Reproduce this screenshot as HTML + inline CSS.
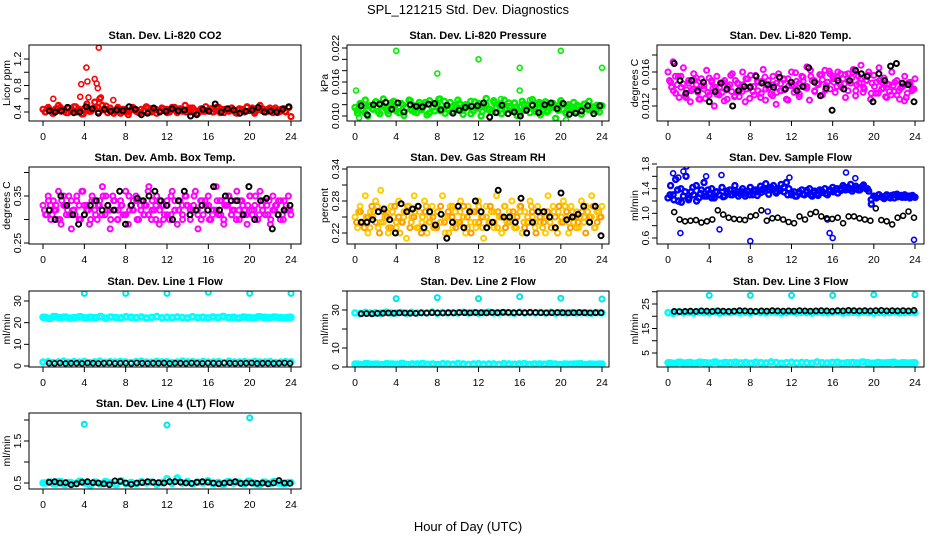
<!DOCTYPE html>
<html><head><meta charset="utf-8"><title>SPL_121215 Std. Dev. Diagnostics</title>
<style>
html,body{margin:0;padding:0;background:#fff;}
svg{display:block;font-family:"Liberation Sans",Arial,sans-serif;}
</style></head>
<body>
<svg id="chart" width="936" height="540" viewBox="0 0 936 540" xmlns="http://www.w3.org/2000/svg">
<rect x="0" y="0" width="936" height="540" fill="#fff"/>
<text x="468" y="14" text-anchor="middle" font-size="13">SPL_121215  Std. Dev. Diagnostics</text>
<text x="468" y="531" text-anchor="middle" font-size="13">Hour of Day (UTC)</text>
</svg>
<script>
// ---- data (values read/estimated from the reference) ----
const xTicks = [0,4,8,12,16,20,24];
const co2Red = [0.44,0.40,0.47,0.42,0.38,0.45,0.50,0.41,0.43,0.39,0.46,0.42,0.48,0.40,0.44,0.37,0.45,0.52,0.41,0.43,0.55,0.47,0.60,0.50,0.44,0.39,0.46,0.42,0.41,0.47,0.38,0.44,0.40,0.36,0.43,0.46,0.41,0.39,0.44,0.42,0.48,0.40,0.45,0.43,0.38,0.41,0.46,0.42,0.44,0.40,0.47,0.43,0.39,0.45,0.41,0.50,0.43,0.40,0.46,0.42,0.38,0.44,0.41,0.48,0.43,0.45,0.40,0.42,0.47,0.44,0.39,0.43,0.41,0.46,0.42,0.38,0.45,0.44,0.40,0.48,0.42,0.46,0.41,0.43,0.50,0.45,0.40,0.44,0.42,0.39,0.46,0.43,0.41,0.45,0.40,0.47,0.33];
const co2Red2 = [0.40,0.45,0.38,0.43,0.47,0.41,0.39,0.44,0.48,0.42,0.37,0.45,0.41,0.46,0.40,0.43,0.49,0.42,0.38,0.45,0.41,0.44,0.40,0.47,0.43,0.39,0.42,0.46,0.40,0.44,0.41,0.45,0.39,0.43,0.47,0.41,0.44,0.40,0.46,0.42,0.38,0.45,0.41,0.43,0.40,0.47,0.39,0.44,0.42,0.46,0.39,0.44,0.41,0.47,0.43,0.38,0.45,0.42,0.40,0.46,0.43,0.39,0.44,0.41,0.47];
const co2OutH = [1.0,3.6,3.7,4.2,4.3,5.0,5.2,5.3,5.4,4.4,5.6,6.8];
const co2OutV = [0.60,0.63,0.82,1.07,0.86,0.90,0.83,0.76,1.37,0.62,0.62,0.58];
const co2Black = [0.42,0.40,0.42,0.47,0.39,0.40,0.48,0.45,0.38,0.44,0.41,0.43,0.42,0.48,0.44,0.36,0.38,0.46,0.40,0.41,0.45,0.42,0.43,0.34,0.36,0.44,0.41,0.52,0.40,0.45,0.43,0.38,0.41,0.43,0.47,0.40,0.41,0.40,0.44,0.48];
const presGreen = [0.0115,0.0105,0.0122,0.0110,0.0128,0.0100,0.0118,0.0112,0.0125,0.0108,0.0120,0.0130,0.0113,0.0104,0.0119,0.0126,0.0109,0.0116,0.0122,0.0101,0.0114,0.0128,0.0110,0.0118,0.0106,0.0124,0.0113,0.0119,0.0102,0.0127,0.0115,0.0109,0.0121,0.0130,0.0111,0.0105,0.0118,0.0124,0.0108,0.0115,0.0128,0.0112,0.0103,0.0120,0.0116,0.0126,0.0109,0.0114,0.0122,0.0100,0.0118,0.0131,0.0111,0.0107,0.0124,0.0115,0.0120,0.0104,0.0128,0.0112,0.0117,0.0109,0.0123,0.0101,0.0116,0.0126,0.0110,0.0119,0.0106,0.0129,0.0113,0.0121,0.0102,0.0117,0.0125,0.0109,0.0115,0.0122,0.0096,0.0118,0.0127,0.0111,0.0105,0.0120,0.0114,0.0124,0.0108,0.0117,0.0103,0.0121,0.0113,0.0126,0.0110,0.0116,0.0119,0.0107,0.0118];
const presGreen2 = [0.0110,0.0121,0.0106,0.0118,0.0113,0.0125,0.0104,0.0117,0.0109,0.0123,0.0112,0.0106,0.0120,0.0115,0.0127,0.0108,0.0119,0.0111,0.0124,0.0105,0.0116,0.0121,0.0109,0.0126,0.0113,0.0107,0.0119,0.0122,0.0110,0.0117,0.0104,0.0125,0.0114,0.0108,0.0120,0.0112,0.0127,0.0106,0.0118,0.0111,0.0123,0.0109,0.0116,0.0105,0.0121,0.0113,0.0119,0.0108,0.0124,0.0112,0.0107,0.0120,0.0115,0.0110,0.0122,0.0106,0.0117,0.0113,0.0119,0.0109,0.0121,0.0111,0.0116,0.0108,0.0118];
const presOutH = [0.1,4.0,8.0,8.1,12.0,14.2,16.0,16.0,20.0,24.0,0.4,20.5,17.0];
const presOutV = [0.0145,0.0215,0.0175,0.0130,0.0200,0.0130,0.0185,0.0145,0.0215,0.0185,0.0097,0.0093,0.0128];
const presBlack = [0.0118,0.0102,0.0120,0.0121,0.0124,0.0112,0.0123,0.0107,0.0120,0.0117,0.0116,0.0121,0.0122,0.0111,0.0119,0.0105,0.0110,0.0115,0.0117,0.0118,0.0123,0.0098,0.0106,0.0119,0.0104,0.0107,0.0100,0.0110,0.0119,0.0106,0.0120,0.0123,0.0113,0.0122,0.0103,0.0105,0.0109,0.0118,0.0104,0.0118];
const tempMag = [0.0160,0.0148,0.0172,0.0135,0.0155,0.0142,0.0165,0.0130,0.0150,0.0138,0.0158,0.0145,0.0128,0.0152,0.0140,0.0162,0.0133,0.0148,0.0120,0.0155,0.0142,0.0136,0.0150,0.0128,0.0145,0.0158,0.0132,0.0147,0.0139,0.0160,0.0125,0.0152,0.0143,0.0137,0.0156,0.0148,0.0130,0.0163,0.0140,0.0150,0.0134,0.0145,0.0122,0.0158,0.0138,0.0152,0.0128,0.0144,0.0160,0.0136,0.0149,0.0131,0.0155,0.0142,0.0166,0.0127,0.0150,0.0138,0.0146,0.0157,0.0133,0.0162,0.0148,0.0140,0.0155,0.0136,0.0160,0.0145,0.0152,0.0130,0.0158,0.0147,0.0163,0.0138,0.0155,0.0168,0.0142,0.0150,0.0160,0.0135,0.0156,0.0148,0.0165,0.0140,0.0153,0.0130,0.0145,0.0160,0.0137,0.0150,0.0128,0.0146,0.0155,0.0135,0.0148,0.0140,0.0152];
const tempMag2 = [0.0150,0.0138,0.0145,0.0155,0.0132,0.0147,0.0140,0.0153,0.0128,0.0144,0.0136,0.0150,0.0142,0.0133,0.0148,0.0139,0.0156,0.0131,0.0146,0.0137,0.0152,0.0129,0.0143,0.0149,0.0135,0.0154,0.0141,0.0132,0.0147,0.0138,0.0151,0.0127,0.0145,0.0140,0.0134,0.0149,0.0143,0.0155,0.0137,0.0146,0.0151,0.0144,0.0158,0.0148,0.0153,0.0142,0.0157,0.0149,0.0160,0.0145,0.0152,0.0140,0.0156,0.0147,0.0135,0.0150,0.0141,0.0146,0.0133,0.0148,0.0138,0.0143,0.0130,0.0145,0.0140];
const tempMag3 = [0.0142,0.0155,0.0130,0.0146,0.0139,0.0125,0.0151,0.0136,0.0144,0.0129,0.0153,0.0141,0.0134,0.0147,0.0126,0.0143,0.0137,0.0150,0.0131,0.0145,0.0140,0.0156,0.0133,0.0138,0.0149,0.0127,0.0142,0.0155,0.0136,0.0146,0.0139,0.0152,0.0144,0.0159,0.0147,0.0154,0.0141,0.0162,0.0150,0.0145,0.0157,0.0139,0.0161,0.0152,0.0143,0.0158,0.0146,0.0138,0.0153,0.0132,0.0147,0.0136,0.0150,0.0128,0.0143,0.0135,0.0148,0.0131,0.0137,0.0144,0.0133,0.0141,0.0126,0.0147,0.0138];
const tempBlack = [0.0170,0.0150,0.0135,0.0150,0.0138,0.0148,0.0125,0.0137,0.0147,0.0140,0.0120,0.0138,0.0143,0.0142,0.0155,0.0147,0.0145,0.0142,0.0154,0.0140,0.0148,0.0138,0.0143,0.0165,0.0148,0.0132,0.0141,0.0115,0.0150,0.0140,0.0150,0.0162,0.0158,0.0155,0.0125,0.0158,0.0150,0.0167,0.0170,0.0147,0.0145,0.0125];
const ambMag = [0.33,0.31,0.35,0.30,0.34,0.32,0.36,0.29,0.33,0.31,0.35,0.28,0.32,0.34,0.30,0.36,0.31,0.33,0.29,0.35,0.32,0.30,0.34,0.37,0.31,0.33,0.28,0.35,0.32,0.30,0.34,0.31,0.36,0.29,0.33,0.32,0.35,0.30,0.34,0.31,0.33,0.37,0.30,0.32,0.35,0.29,0.33,0.31,0.34,0.30,0.36,0.32,0.29,0.34,0.31,0.35,0.33,0.30,0.32,0.36,0.28,0.34,0.31,0.33,0.35,0.30,0.32,0.37,0.31,0.34,0.29,0.33,0.35,0.31,0.32,0.36,0.30,0.34,0.32,0.29,0.35,0.31,0.33,0.30,0.36,0.32,0.34,0.31,0.29,0.35,0.33,0.31,0.34,0.30,0.32,0.35,0.31];
const ambMag2 = [0.32,0.34,0.31,0.33,0.30,0.35,0.32,0.34,0.31,0.33,0.36,0.32,0.30,0.34,0.33,0.31,0.35,0.32,0.34,0.30,0.33,0.31,0.35,0.32,0.34,0.33,0.31,0.36,0.32,0.30,0.34,0.33,0.31,0.35,0.32,0.34,0.30,0.33,0.32,0.35,0.31,0.34,0.33,0.30,0.32,0.34,0.31,0.33,0.35,0.32,0.30,0.34,0.31,0.33,0.32,0.35,0.31,0.34,0.33,0.30,0.32,0.34,0.31,0.33,0.32];
const ambMag3 = [0.31,0.33,0.32,0.30,0.34,0.33,0.31,0.32,0.35,0.30,0.33,0.32,0.34,0.31,0.33,0.35,0.32,0.30,0.34,0.32,0.33,0.31,0.32,0.34,0.30,0.32,0.33,0.31,0.34,0.33,0.32,0.30,0.33,0.31,0.34,0.32,0.33,0.35,0.31,0.33,0.32,0.30,0.34,0.33,0.31,0.32,0.34,0.30,0.33,0.31,0.34,0.32,0.33,0.31,0.35,0.32,0.30,0.33,0.31,0.34,0.32,0.33,0.30,0.34,0.32];
const ambBlack = [0.32,0.30,0.35,0.33,0.31,0.29,0.31,0.33,0.34,0.32,0.33,0.32,0.36,0.29,0.33,0.345,0.34,0.35,0.36,0.34,0.33,0.30,0.34,0.36,0.31,0.32,0.33,0.32,0.37,0.32,0.35,0.34,0.34,0.31,0.37,0.30,0.34,0.345,0.28,0.31,0.32,0.33];
const rhOrange = [0.25,0.23,0.27,0.24,0.29,0.22,0.26,0.25,0.28,0.23,0.30,0.24,0.26,0.22,0.27,0.25,0.23,0.28,0.24,0.26,0.21,0.27,0.25,0.29,0.23,0.26,0.24,0.28,0.22,0.25,0.27,0.23,0.26,0.24,0.29,0.22,0.25,0.27,0.23,0.26,0.24,0.28,0.25,0.22,0.27,0.24,0.26,0.23,0.28,0.25,0.21,0.27,0.24,0.26,0.23,0.29,0.25,0.22,0.27,0.24,0.26,0.28,0.23,0.25,0.27,0.22,0.26,0.24,0.28,0.25,0.23,0.27,0.24,0.26,0.22,0.29,0.25,0.27,0.23,0.26,0.24,0.28,0.25,0.22,0.27,0.24,0.26,0.23,0.28,0.25,0.27,0.24,0.29,0.23,0.26,0.25,0.27];
const rhOrange2 = [0.24,0.26,0.23,0.25,0.27,0.24,0.22,0.26,0.25,0.23,0.27,0.25,0.24,0.26,0.23,0.25,0.27,0.22,0.26,0.24,0.25,0.23,0.27,0.24,0.26,0.25,0.23,0.24,0.27,0.25,0.22,0.26,0.24,0.25,0.23,0.27,0.24,0.26,0.25,0.23,0.24,0.26,0.25,0.27,0.23,0.24,0.26,0.22,0.25,0.24,0.26,0.23,0.25,0.27,0.24,0.26,0.23,0.25,0.24,0.26,0.22,0.25,0.27,0.24,0.25];
const rhOrange3 = [0.26,0.24,0.25,0.23,0.26,0.27,0.24,0.25,0.23,0.26,0.24,0.22,0.25,0.27,0.24,0.26,0.23,0.25,0.27,0.24,0.23,0.26,0.24,0.25,0.22,0.27,0.24,0.26,0.25,0.23,0.26,0.24,0.27,0.23,0.25,0.24,0.26,0.23,0.25,0.27,0.24,0.25,0.23,0.26,0.24,0.25,0.27,0.24,0.26,0.23,0.25,0.24,0.26,0.22,0.25,0.27,0.24,0.26,0.23,0.25,0.24,0.26,0.25,0.23,0.26];
const rhBlack = [0.24,0.24,0.245,0.26,0.265,0.245,0.22,0.275,0.26,0.265,0.27,0.23,0.26,0.235,0.255,0.21,0.24,0.27,0.23,0.26,0.28,0.26,0.23,0.24,0.30,0.25,0.25,0.24,0.285,0.22,0.24,0.26,0.26,0.25,0.23,0.295,0.245,0.25,0.255,0.27,0.24,0.27,0.215];
const flowBlue = [1.25,1.45,1.30,1.55,1.20,1.40,1.28,1.60,1.22,1.35,1.30,1.45,1.25,1.38,1.50,1.28,1.32,1.40,1.25,1.35,1.30,1.42,1.28,1.33,1.38,1.30,1.45,1.35,1.32,1.40,1.28,1.36,1.42,1.30,1.38,1.35,1.44,1.40,1.48,1.38,1.42,1.45,1.36,1.40,1.47,1.42,1.50,1.40,1.30,1.35,1.28,1.32,1.38,1.30,1.35,1.40,1.28,1.36,1.32,1.38,1.34,1.40,1.30,1.36,1.42,1.38,1.33,1.40,1.45,1.38,1.42,1.47,1.40,1.44,1.38,1.42,1.46,1.40,1.36,1.15,1.28,1.25,1.30,1.27,1.24,1.30,1.26,1.29,1.25,1.31,1.28,1.26,1.30,1.27,1.25,1.29,1.26];
const flowBlue2 = [1.30,1.22,1.38,1.18,1.35,1.25,1.42,1.20,1.32,1.28,1.38,1.25,1.35,1.30,1.27,1.36,1.30,1.33,1.28,1.35,1.32,1.30,1.37,1.29,1.34,1.36,1.31,1.39,1.33,1.37,1.35,1.30,1.33,1.28,1.35,1.31,1.37,1.30,1.34,1.29,1.36,1.32,1.38,1.35,1.40,1.37,1.42,1.39,1.36,1.40,1.38,1.43,1.40,1.22,1.27,1.30,1.26,1.28,1.25,1.30,1.27,1.29,1.26,1.28,1.27];
const flowOutH = [0.5,1.0,1.2,1.5,1.8,3.7,5.0,5.2,8.0,9.7,11.8,15.5,15.7,16.0,17.3,18.2,23.9];
const flowOutV = [1.65,1.58,0.68,1.68,1.76,1.60,0.74,1.62,0.55,1.03,1.58,0.90,0.68,0.60,1.66,1.57,0.57];
const flowBlack = [1.02,0.90,0.87,0.88,0.89,0.85,0.87,0.90,1.05,0.98,0.93,0.91,0.90,0.89,0.95,0.97,1.05,0.88,0.92,0.93,0.90,0.86,0.84,0.95,0.90,0.99,1.02,0.95,0.92,0.91,0.93,0.84,0.95,0.95,0.92,0.90,0.88,1.08,0.89,0.87,0.82,0.93,0.96,1.03,0.93];
const line1Hi = [22.5,22.0,22.8,22.3,22.6,22.1,22.4,22.7,22.2,22.5,22.3,22.8,22.1,22.6,22.4,22.2,22.7,22.5,22.3,22.6,22.1,22.4,22.8,22.2,22.5,22.3,22.6,22.4,22.1,22.7,22.3,22.5,22.2,22.6,22.4,22.8,22.3,22.5,22.1,22.6,22.4,22.2,22.7,22.5,22.3,22.6,22.4,22.2,22.5];
const line1Lo = [1.8,2.0,1.6,1.9,2.2,1.7,2.0,1.8,2.1,1.6,1.9,2.2,1.7,2.0,1.8,2.1,1.9,1.6,2.0,2.2,1.8,1.7,2.1,1.9,2.0,1.6,1.8,2.2,1.9,2.0,1.7,2.1,1.8,1.9,2.0,1.6,2.2,1.8,1.9,2.0,1.7,2.1,1.8,1.9,2.0,1.6,1.8,2.0,1.9];
const line1Black = [1.3,1.2,1.4,1.2,1.3,1.3,1.2,1.4,1.3,1.2,1.3,1.4,1.2,1.3,1.3,1.2,1.4,1.3,1.2,1.3,1.3,1.4,1.2,1.3,1.3,1.2,1.4,1.3,1.2,1.3,1.3,1.2,1.4,1.3,1.2,1.3,1.3,1.4,1.2,1.3,1.3,1.2,1.3,1.4,1.2];
const outH = [4,8,12,16,20,24];
const line1Out = [33.5,33.5,33.5,34.0,33.5,33.5];
const line2Hi = [28.5,28.2,28.8,28.4,28.6,28.3,28.9,28.5,28.4,28.7,28.3,28.8,28.5,28.6,28.4,28.9,28.3,28.7,28.5,28.6,28.4,28.8,28.5,28.7,28.3,28.6,28.9,28.4,28.5,28.7,28.6,28.3,28.8,28.5,28.6,28.4,28.7,28.5,28.8,28.3,28.6,28.5,28.7,28.4,28.6,28.5,28.3,28.6,28.5];
const line2Lo = [1.5,1.3,1.8,1.4,1.6,1.2,1.7,1.5,1.4,1.9,1.3,1.6,1.5,1.8,1.4,1.6,1.3,1.7,1.5,1.4,1.8,1.6,1.3,1.5,1.7,1.4,1.6,1.5,1.3,1.8,1.5,1.4,1.6,1.7,1.3,1.5,1.6,1.4,1.8,1.5,1.3,1.6,1.4,1.5,1.7,1.3,1.5,1.4,1.5];
const line2Black = [28.0,28.1,28.0,28.2,28.3,28.4,28.3,28.5,28.4,28.3,28.2,28.5,28.4,28.6,28.5,28.4,28.6,28.5,28.7,28.6,28.5,28.7,28.6,28.5,28.7,28.6,28.8,28.7,28.6,28.7,28.6,28.8,28.7,28.6,28.5,28.6,28.7,28.6,28.5,28.6,28.7,28.6,28.5,28.6,28.6];
const line2Out = [36.0,36.5,36.0,37.0,36.2,35.8];
const line3Hi = [21.5,21.2,21.8,21.4,21.6,21.3,21.7,21.5,21.4,21.8,21.3,21.6,21.5,21.7,21.4,21.6,21.3,21.8,21.5,21.4,21.7,21.6,21.3,21.5,21.8,21.4,21.6,21.5,21.3,21.7,21.5,21.4,21.6,21.8,21.3,21.5,21.6,21.4,21.7,21.5,21.3,21.6,21.4,21.5,21.7,21.4,21.5,21.6,21.5];
const line3Lo = [1.0,0.8,1.2,0.9,1.1,0.8,1.2,1.0,0.9,1.3,0.8,1.1,1.0,1.2,0.9,1.1,0.8,1.2,1.0,0.9,1.3,1.1,0.8,1.0,1.2,0.9,1.1,1.0,0.8,1.3,1.0,0.9,1.1,1.2,0.8,1.0,1.1,0.9,1.3,1.0,0.8,1.1,0.9,1.0,1.2,0.8,1.0,0.9,1.0];
const line3Black = [22.0,21.9,22.0,22.1,22.0,22.2,22.1,22.0,22.2,22.1,22.0,22.1,22.3,22.2,22.1,22.0,22.2,22.1,22.3,22.2,22.1,22.2,22.1,22.3,22.2,22.1,22.2,22.3,22.2,22.1,22.3,22.2,22.4,22.3,22.2,22.3,22.2,22.3,22.4,22.2,22.3,22.2,22.3,22.2,22.4];
const line3Out = [28.5,28.5,28.5,28.5,28.8,28.8];
const line4Cyan = [0.50,0.52,0.48,0.53,0.47,0.51,0.49,0.54,0.50,0.46,0.52,0.48,0.53,0.50,0.47,0.55,0.49,0.51,0.48,0.53,0.50,0.52,0.47,0.51,0.60,0.49,0.62,0.50,0.53,0.48,0.52,0.50,0.55,0.49,0.51,0.47,0.53,0.50,0.52,0.48,0.54,0.50,0.47,0.52,0.49,0.53,0.50,0.48,0.51];
const line4Black = [0.52,0.53,0.50,0.51,0.46,0.48,0.52,0.53,0.51,0.50,0.48,0.46,0.55,0.54,0.50,0.47,0.50,0.51,0.53,0.52,0.51,0.50,0.53,0.53,0.52,0.50,0.49,0.52,0.53,0.52,0.50,0.48,0.50,0.51,0.53,0.49,0.50,0.50,0.49,0.50,0.48,0.50,0.56,0.50,0.49];
const line4Out = [1.90,1.88,2.05];
const line4OutH = [4,12,20];

// ---- drawing ----
const NS = 'http://www.w3.org/2000/svg';
const svg = document.getElementById('chart');
function mk(tag, attrs, parent){
  const e = document.createElementNS(NS, tag);
  for (const k in attrs) e.setAttribute(k, attrs[k]);
  (parent || svg).appendChild(e);
  return e;
}
function idxHours(arr, start, end){ const n = arr.length; return arr.map((v,i)=> start + (end-start)*i/(n-1)); }

const cols = [
  {l:29, r:301, x0:43, x24:291},
  {l:347, r:609, x0:355, x24:602},
  {l:657, r:924, x0:668, x24:915}
];
const rows = [{t:45,b:121},{t:167,b:244},{t:291,b:367},{t:413,b:489}];

function panel(cfg){
  const c = cols[cfg.col], rw = rows[cfg.row];
  const g = mk('g', {});
  
  
  const xs = h => c.x0 + (c.x24 - c.x0) * h / 24;
  const ys = v => cfg.p0 + (cfg.p1 - cfg.p0) * (v - cfg.v0) / (cfg.v1 - cfg.v0);
  const clip = 'clip-' + cfg.name;
  const cp = mk('clipPath', {id: clip}, g);
  mk('rect', {x:c.l, y:rw.t, width:c.r-c.l, height:rw.b-rw.t}, cp);
  const title = mk('text', {x:(c.l+c.r)/2, y:rw.t-6, 'text-anchor':'middle', 'font-size':'11', 'font-weight':'bold'}, g);
  title.textContent = cfg.title;
  
  
  const yl = mk('text', {x:c.l-19, y:(rw.t+rw.b)/2, 'text-anchor':'middle', 'font-size':'10.5', transform:'rotate(-90 '+(c.l-19)+' '+((rw.t+rw.b)/2)+')'}, g);
  yl.textContent = cfg.ylab;
  
  
  const pg = mk('g', {'clip-path':'url(#'+clip+')'}, g);
  cfg.series.forEach(s => {
    const hrs = s.hours || idxHours(s.vals, s.start != null ? s.start : 0, s.end != null ? s.end : 24);
    s.vals.forEach((v,i) => {
      const p = mk('circle', {cx:xs(hrs[i]).toFixed(1), cy:ys(v).toFixed(1), r:s.r||2.5, fill:'none', stroke:s.color, 'stroke-width':s.sw||1.6}, pg);
      
      
    });
  });
  const box = mk('rect', {x:c.l, y:rw.t, width:c.r-c.l, height:rw.b-rw.t, fill:'none', stroke:'#000', 'stroke-width':1}, g);
  
  
  xTicks.forEach(t => {
    const x = xs(t);
    mk('line', {x1:x, x2:x, y1:rw.b, y2:rw.b+5, stroke:'#000'}, g);
    const lt = mk('text', {x:x, y:rw.b+19, 'text-anchor':'middle', 'font-size':'10.5'}, g);
    lt.textContent = t;
    
    
  });
  mk('line', {x1:xs(0), x2:xs(24), y1:rw.b, y2:rw.b, stroke:'#000'}, g);
  cfg.ticks.forEach(t => {
    const y = ys(t);
    mk('line', {x1:c.l-5, x2:c.l, y1:y, y2:y, stroke:'#000'}, g);
  });
  cfg.labels.forEach((t,i) => {
    const y = ys(t);
    const tx = c.l - 8;
    const lt = mk('text', {x:tx, y:y, 'text-anchor':'middle', 'font-size':'10.5', transform:'rotate(-90 '+tx+' '+y+')'}, g);
    lt.textContent = cfg.labelText ? cfg.labelText[i] : String(t);
    
    
  });
}

panel({name:'co2', col:0, row:0, title:'Stan. Dev. Li-820 CO2', ylab:'Licor ppm', v0:0.4, p0:112, v1:1.2, p1:59,
  ticks:[0.4,0.6,0.8,1.0,1.2], labels:[0.4,0.8,1.2],
  series:[{key:'red', vals:co2Red, color:'#ff0000', sw:2.2},{key:'red2', vals:co2Red2, color:'#ff0000', sw:2.2, start:0.2, end:23.8},{key:'red-outlier', vals:co2OutV, hours:co2OutH, color:'#ff0000'},{key:'black', vals:co2Black, color:'#000', sw:2, start:0.6, end:23.8}]});
panel({name:'pressure', col:1, row:0, title:'Stan. Dev. Li-820 Pressure', ylab:'kPa', v0:0.010, p0:116, v1:0.022, p1:48,
  ticks:[0.010,0.012,0.014,0.016,0.018,0.020,0.022], labels:[0.010,0.016,0.022], labelText:['0.010','0.016','0.022'],
  series:[{key:'green', vals:presGreen, color:'#00ee00', sw:2.4},{key:'green2', vals:presGreen2, color:'#00ee00', sw:2.4, start:0.2, end:23.8},{key:'green-outlier', vals:presOutV, hours:presOutH, color:'#00ee00'},{key:'black', vals:presBlack, color:'#000', sw:2, start:0.6, end:23.8}]});
panel({name:'temp', col:2, row:0, title:'Stan. Dev. Li-820 Temp.', ylab:'degrees C', v0:0.012, p0:106, v1:0.016, p1:72,
  ticks:[0.012,0.014,0.016,0.018], labels:[0.012,0.016], labelText:['0.012','0.016'],
  series:[{key:'magenta', vals:tempMag, color:'#ff00ff', sw:2},{key:'magenta2', vals:tempMag2, color:'#ff00ff', sw:2, start:0.15, end:23.9},{key:'magenta3', vals:tempMag3, color:'#ff00ff', sw:2, start:0.35, end:23.7},{key:'black', vals:tempBlack, color:'#000', sw:2, start:0.6, end:23.9}]});
panel({name:'ambtemp', col:0, row:1, title:'Stan. Dev. Amb. Box Temp.', ylab:'degrees C', v0:0.25, p0:243, v1:0.35, p1:196,
  ticks:[0.25,0.30,0.35,0.40], labels:[0.25,0.35], labelText:['0.25','0.35'],
  series:[{key:'magenta', vals:ambMag, color:'#ff00ff', sw:2},{key:'magenta2', vals:ambMag2, color:'#ff00ff', sw:2, start:0.15, end:23.9},{key:'magenta3', vals:ambMag3, color:'#ff00ff', sw:2, start:0.35, end:23.7},{key:'black', vals:ambBlack, color:'#000', sw:2, start:0.6, end:23.9}]});
panel({name:'rh', col:1, row:1, title:'Stan. Dev. Gas Stream RH', ylab:'percent', v0:0.22, p0:233, v1:0.34, p1:169,
  ticks:[0.22,0.25,0.28,0.31,0.34], labels:[0.22,0.28,0.34], labelText:['0.22','0.28','0.34'],
  series:[{key:'orange', vals:rhOrange, color:'#ffcc00', sw:2},{key:'orange2', vals:rhOrange2, color:'#ff9900', sw:2, start:0.15, end:23.9},{key:'orange3', vals:rhOrange3, color:'#ffbb00', sw:2, start:0.35, end:23.7},{key:'black', vals:rhBlack, color:'#000', sw:2, start:0.6, end:23.9}]});
panel({name:'sampleflow', col:2, row:1, title:'Stan. Dev. Sample Flow', ylab:'ml/min', v0:0.6, p0:238, v1:1.8, p1:164,
  ticks:[0.6,0.8,1.0,1.2,1.4,1.6,1.8], labels:[0.6,1.0,1.4,1.8], labelText:['0.6','1.0','1.4','1.8'],
  series:[{key:'blue', vals:flowBlue, color:'#0000ff', sw:2.4},{key:'blue2', vals:flowBlue2, color:'#0000ff', sw:2.4, start:0.2, end:23.8},{key:'blue-outlier', vals:flowOutV, hours:flowOutH, color:'#0000ff'},{key:'black', vals:flowBlack, color:'#000', sw:1.6, start:0.6, end:23.9}]});
panel({name:'line1', col:0, row:2, title:'Stan. Dev. Line 1 Flow', ylab:'ml/min', v0:0, p0:366, v1:30, p1:301,
  ticks:[0,10,20,30], labels:[0,10,20,30],
  series:[{key:'cyan-high', vals:line1Hi, color:'#00ffff', sw:2.6},{key:'cyan-high2', vals:line1Hi, color:'#00ffff', sw:2.6, start:0.25, end:23.75},{key:'cyan-low', vals:line1Lo, color:'#00ffff', sw:2.6},{key:'black', vals:line1Black, color:'#000', sw:1.6, start:0.6, end:23.9},{key:'cyan-outlier', vals:line1Out, hours:outH, color:'#00e5e5', sw:2}]});
panel({name:'line2', col:1, row:2, title:'Stan. Dev. Line 2 Flow', ylab:'ml/min', v0:0, p0:367, v1:30, p1:310,
  ticks:[0,10,20,30,40], labels:[0,10,30],
  series:[{key:'cyan-high', vals:line2Hi, color:'#00ffff', sw:2.6},{key:'cyan-low', vals:line2Lo, color:'#00ffff', sw:2.6},{key:'cyan-low2', vals:line2Lo, color:'#00ffff', sw:2.6, start:0.25, end:23.75},{key:'black', vals:line2Black, color:'#000', sw:1.8, start:0.6, end:23.9},{key:'cyan-outlier', vals:line2Out, hours:outH, color:'#00e5e5', sw:2}]});
panel({name:'line3', col:2, row:2, title:'Stan. Dev. Line 3 Flow', ylab:'ml/min', v0:5, p0:353, v1:25, p1:304,
  ticks:[5,10,15,20,25,30], labels:[5,15,25],
  series:[{key:'cyan-high', vals:line3Hi, color:'#00ffff', sw:2.6},{key:'cyan-low', vals:line3Lo, color:'#00ffff', sw:2.6},{key:'cyan-low2', vals:line3Lo, color:'#00ffff', sw:2.6, start:0.25, end:23.75},{key:'black', vals:line3Black, color:'#000', sw:1.8, start:0.6, end:23.9},{key:'cyan-outlier', vals:line3Out, hours:outH, color:'#00e5e5', sw:2}]});
panel({name:'line4', col:0, row:3, title:'Stan. Dev. Line 4 (LT) Flow', ylab:'ml/min', v0:0.5, p0:483, v1:1.5, p1:441,
  ticks:[0.5,1.0,1.5,2.0], labels:[0.5,1.5], labelText:['0.5','1.5'],
  series:[{key:'cyan', vals:line4Cyan, color:'#00ffff', sw:2.6},{key:'cyan2', vals:line4Cyan, color:'#00ffff', sw:2.6, start:0.25, end:23.75},{key:'black', vals:line4Black, color:'#000', sw:1.8, start:0.6, end:23.9},{key:'cyan-outlier', vals:line4Out, hours:line4OutH, color:'#00e5e5', sw:2}]});
</script>
</body></html>
